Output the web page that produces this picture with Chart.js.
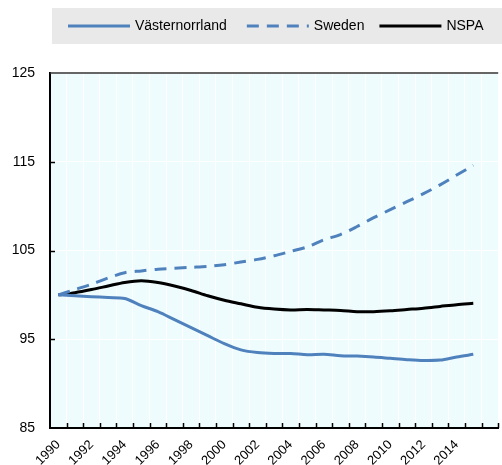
<!DOCTYPE html>
<html>
<head>
<meta charset="utf-8">
<script src="https://cdn.jsdelivr.net/npm/chart.js@4.4.1/dist/chart.umd.min.js"></script>
<style>
  html, body { margin: 0; padding: 0; background: #ffffff; overflow: hidden; }
  #wrap { position: absolute; left: 0; top: 0; width: 510px; height: 465px; }
</style>
</head>
<body>
<div id="wrap"><canvas id="chart" width="510" height="465"></canvas></div>
<script>
// Population index, 1990 = 100
const years = ['1990','1991','1992','1993','1994','1995','1996','1997','1998','1999',
               '2000','2001','2002','2003','2004','2005','2006','2007','2008','2009',
               '2010','2011','2012','2013','2014','2015','2016'];
const tickLabels = ['1990','1992','1994','1996','1998','2000','2002','2004','2006',
                    '2008','2010','2012','2014'];
const yTicks = [85, 95, 105, 115, 125];

const vasternorrland = [100, 99.9, 99.8, 99.7, 99.6, 98.8, 98.1, 97.2, 96.3, 95.4,
                        94.5, 93.8, 93.5, 93.4, 93.4, 93.25, 93.3, 93.15, 93.1, 93.0,
                        92.85, 92.7, 92.6, 92.65, 93.0, 93.3, null];
const sweden = [100, 100.6, 101.2, 101.9, 102.5, 102.7, 102.9, 103.0, 103.1, 103.2,
                103.4, 103.7, 104.0, 104.4, 104.9, 105.4, 106.2, 106.8, 107.7, 108.7,
                109.6, 110.5, 111.4, 112.4, 113.5, 114.6, null];
const nspa = [100, 100.25, 100.6, 101.0, 101.4, 101.6, 101.4, 101.0, 100.5, 99.9,
              99.4, 99.0, 98.6, 98.4, 98.3, 98.35, 98.3, 98.25, 98.1, 98.1,
              98.2, 98.35, 98.5, 98.7, 98.9, 99.05, null];

const BLUE = '#4f81bd';
const FONT = "'Liberation Sans', Arial, sans-serif";

const series = [
  { label: 'Västernorrland', data: vasternorrland, color: BLUE, dash: [] },
  { label: 'Sweden', data: sweden, color: BLUE, dash: [12, 8] },
  { label: 'NSPA', data: nspa, color: '#000000', dash: [] }
];

// plot background, frame and inward tick marks
const frame = {
  id: 'frame',
  beforeDraw(chart) {
    const { ctx, chartArea: a } = chart;
    ctx.save();
    ctx.fillStyle = '#effcfe';
    ctx.fillRect(a.left, a.top, a.right - a.left, a.bottom - a.top);
    ctx.restore();
  },
  afterDraw(chart) {
    const { ctx, chartArea: a, scales } = chart;
    ctx.save();
    ctx.strokeStyle = '#333333';
    ctx.lineWidth = 1.5;
    ctx.beginPath();
    ctx.moveTo(a.left, a.top);
    ctx.lineTo(a.right, a.top);
    ctx.stroke();

    ctx.strokeStyle = '#000000';
    ctx.lineWidth = 1.5;
    const x = scales.x;
    const half = (x.getPixelForValue(1) - x.getPixelForValue(0)) / 2;
    ctx.beginPath();
    for (let i = 0; i < years.length; i++) {
      const px = Math.round(x.getPixelForValue(i) + half) + 0.5;
      ctx.moveTo(px, a.bottom);
      ctx.lineTo(px, a.bottom - 5);
    }
    const y = scales.y;
    yTicks.slice(1, -1).forEach(v => {
      const py = Math.round(y.getPixelForValue(v)) + 0.5;
      ctx.moveTo(a.left, py);
      ctx.lineTo(a.left + 5, py);
    });
    ctx.stroke();
    ctx.restore();
  }
};

// legend band across the top
const legendBand = {
  id: 'legendBand',
  afterDraw(chart) {
    const ctx = chart.ctx;
    ctx.save();
    ctx.fillStyle = '#e9e9e9';
    ctx.fillRect(52, 8, chart.width - 52, 36);
    ctx.font = '14px ' + FONT;
    ctx.textBaseline = 'middle';
    let x = 68;
    const cy = 26;
    const gaps = [20, 15, 0];
    series.forEach((s, i) => {
      ctx.strokeStyle = s.color;
      ctx.lineWidth = 3;
      ctx.setLineDash(s.dash);
      ctx.beginPath();
      ctx.moveTo(x, cy);
      ctx.lineTo(x + 62, cy);
      ctx.stroke();
      ctx.setLineDash([]);
      x += 67;
      ctx.fillStyle = '#000000';
      ctx.fillText(s.label, x, cy);
      x += ctx.measureText(s.label).width + gaps[i];
    });
    ctx.restore();
  }
};

new Chart(document.getElementById('chart'), {
  type: 'line',
  data: {
    labels: years,
    datasets: series.map(s => ({
      label: s.label,
      data: s.data,
      borderColor: s.color,
      backgroundColor: s.color,
      borderWidth: 3,
      borderDash: s.dash,
      pointRadius: 0,
      tension: 0.3,
      fill: false
    }))
  },
  options: {
    responsive: false,
    animation: false,
    layout: { padding: { top: 73, right: 4, left: 0, bottom: 0 } },
    plugins: { legend: { display: false }, tooltip: { enabled: false } },
    scales: {
      x: {
        offset: true,
        grid: { offset: true, color: '#ffffff', lineWidth: 1, drawTicks: false },
        border: { color: '#000000', width: 2 },
        afterFit(s) { s.height = 37; },
        ticks: {
          autoSkip: false,
          maxRotation: 45,
          minRotation: 45,
          padding: 9,
          color: '#000000',
          font: { family: FONT, size: 13 },
          callback(v, i) { return tickLabels.includes(years[i]) ? years[i] : ''; }
        }
      },
      y: {
        min: 85,
        max: 125,
        afterBuildTicks(s) { s.ticks = yTicks.map(v => ({ value: v })); },
        grid: { color: '#ffffff', lineWidth: 1, drawTicks: false },
        border: { color: '#000000', width: 2 },
        afterFit(s) { s.width = 50; },
        ticks: {
          padding: 15,
          color: '#000000',
          font: { family: FONT, size: 14 }
        }
      }
    }
  },
  plugins: [frame, legendBand]
});
</script>
</body>
</html>
